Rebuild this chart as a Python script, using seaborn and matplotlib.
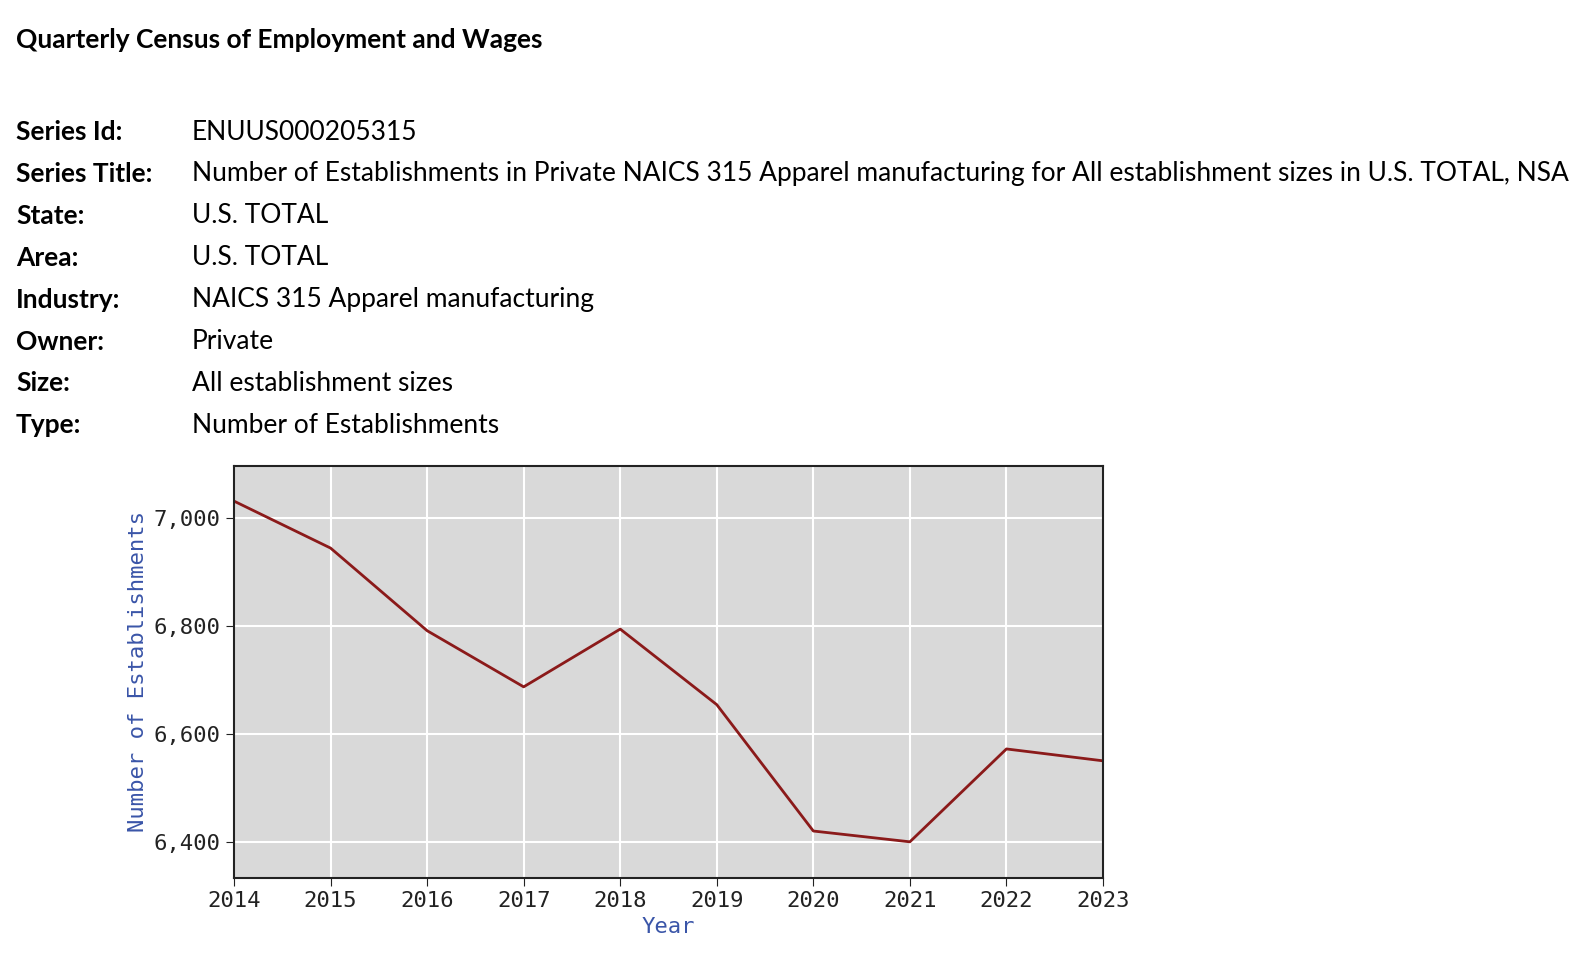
import matplotlib
matplotlib.use("Agg")
import matplotlib.pyplot as plt
import seaborn as sns
import pandas as pd

years = [2014, 2015, 2016, 2017, 2018, 2019, 2020, 2021, 2022, 2023]
establishments = [7031, 6944, 6791, 6687, 6794, 6654, 6420, 6400, 6572, 6550]
meta_labels = ["Series Id:", "Series Title:", "State:", "Area:", "Industry:", "Owner:", "Size:", "Type:"]
meta_values = ["ENUUS000205315",
               "Number of Establishments in Private NAICS 315 Apparel manufacturing for All establishment sizes in U.S. TOTAL, NSA",
               "U.S. TOTAL", "U.S. TOTAL", "NAICS 315 Apparel manufacturing", "Private",
               "All establishment sizes", "Number of Establishments"]
yticks = [6400, 6600, 6800, 7000]

W, H = 1574, 974
fig = plt.figure(figsize=(W/100, H/100), dpi=100)
fam = "Lato"
fig.text(16/W, 1-40/H, "Quarterly Census of Employment and Wages", fontsize=19, fontweight="bold",
         family=fam, va="center")
for i, (l, v) in enumerate(zip(meta_labels, meta_values)):
    y = 1-(132+i*41.9)/H
    fig.text(16/W, y, l, fontsize=19, fontweight="bold", family=fam, va="center")
    fig.text(192/W, y, v, fontsize=19, family=fam, va="center")

ax = fig.add_axes([234/W, 1-878/H, 869/W, 412/H])
df = pd.DataFrame({"Year": years, "Est": establishments})
sns.lineplot(data=df, x="Year", y="Est", ax=ax, color="#8B1A1A", linewidth=2)
ax.set_facecolor("#D9D9D9")
ax.grid(True, color="white", linewidth=1.5)
ax.set_axisbelow(True)
ax.set_xlim(2014, 2023)
ax.set_ylim(6333, 7096)
ax.set_xticks(years)
ax.set_yticks(yticks)
ax.set_yticklabels([f"{v:,}" for v in yticks])
for s in ax.spines.values():
    s.set_color("#222222"); s.set_linewidth(1.5)
ax.tick_params(labelsize=16, length=6, colors="#222222")
for t in ax.get_xticklabels() + ax.get_yticklabels():
    t.set_family("DejaVu Sans Mono")
ax.set_xlabel("Year", fontsize=16, color="#3A55A8", family="DejaVu Sans Mono")
ax.set_ylabel("Number of Establishments", fontsize=16, color="#3A55A8", family="DejaVu Sans Mono")
fig.savefig("out.png", dpi=100)
